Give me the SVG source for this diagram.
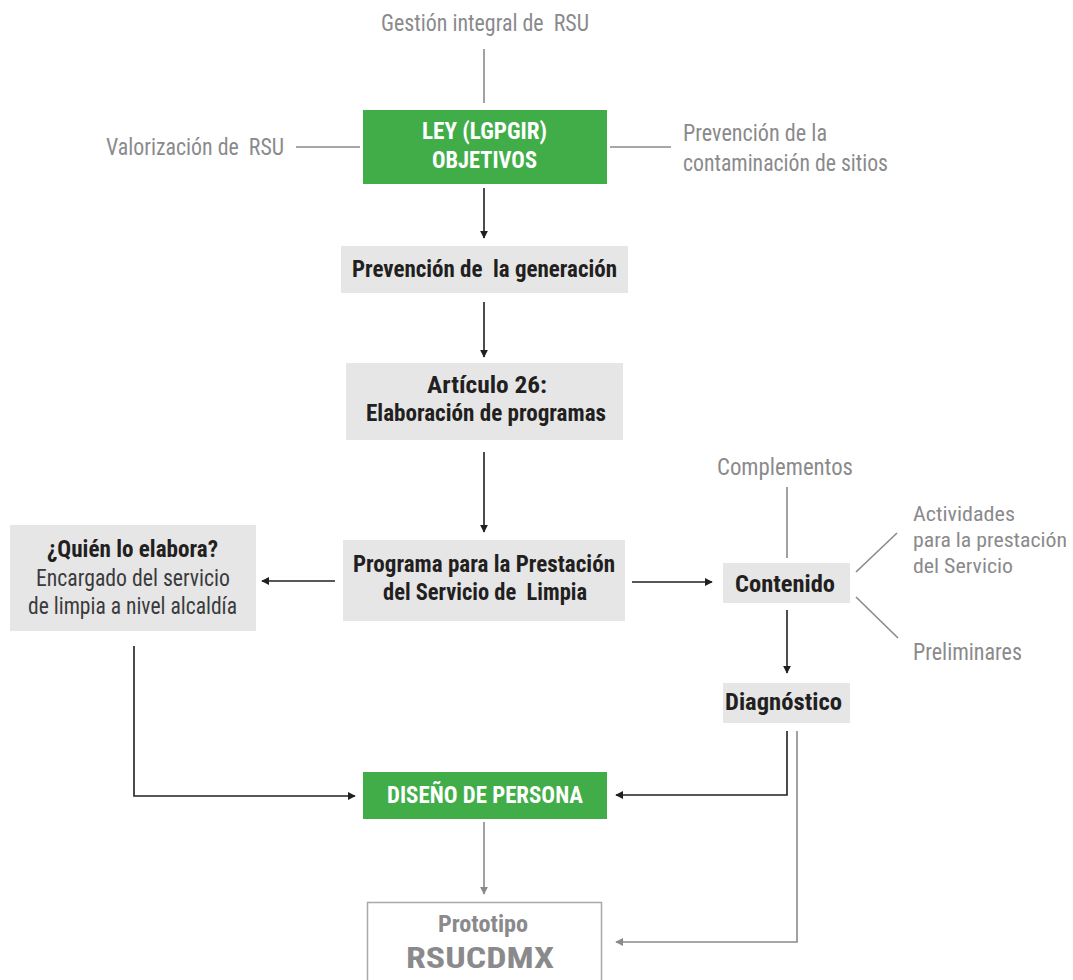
<svg xmlns="http://www.w3.org/2000/svg" width="1073" height="980" viewBox="0 0 1073 980">
<defs>
<marker id="ah" viewBox="0 0 10 10" refX="9" refY="5" markerWidth="8" markerHeight="8" markerUnits="userSpaceOnUse" orient="auto"><path d="M0,0 L10,5 L0,10 z" fill="#231f20"/></marker>
<marker id="ahg" viewBox="0 0 10 10" refX="9" refY="5" markerWidth="8" markerHeight="8" markerUnits="userSpaceOnUse" orient="auto"><path d="M0,0 L10,5 L0,10 z" fill="#8a8a8c"/></marker>
<style>
text{font-family:"Roboto Condensed","Liberation Sans Narrow","Liberation Sans",sans-serif;}
.g{fill:#8a8a8c;font-size:23px;}
.s{font-size:21px;}
.d{fill:#3a3a3c;font-size:23px;}
.b{fill:#231f20;font-size:23px;font-weight:bold;}
.w{fill:#ffffff;font-size:23px;font-weight:bold;}
.c{text-anchor:middle;}
.green{fill:#41ad49;}
.grey{fill:#e6e6e7;}
.lk{stroke:#231f20;stroke-width:1.6;fill:none;}
.lg{stroke:#8a8a8c;stroke-width:1.6;fill:none;}
</style>
</defs>
<rect width="1073" height="980" fill="#ffffff"/>
<g id="connectors">
<line class="lg" x1="484" y1="49" x2="484" y2="103"/>
<line class="lg" x1="296" y1="147" x2="360" y2="147"/>
<line class="lg" x1="610" y1="147" x2="671" y2="147"/>
<line class="lk" x1="484" y1="188" x2="484" y2="238" marker-end="url(#ah)"/>
<line class="lk" x1="484" y1="302" x2="484" y2="357" marker-end="url(#ah)"/>
<line class="lk" x1="484" y1="452" x2="484" y2="532" marker-end="url(#ah)"/>
<line class="lk" x1="335" y1="581" x2="262" y2="581" marker-end="url(#ah)"/>
<line class="lk" x1="632" y1="582" x2="712" y2="582" marker-end="url(#ah)"/>
<line class="lg" x1="787" y1="487" x2="787" y2="558"/>
<line class="lg" x1="856" y1="572" x2="897" y2="533"/>
<line class="lg" x1="856" y1="597" x2="898" y2="638"/>
<line class="lk" x1="787" y1="610" x2="787" y2="673" marker-end="url(#ah)"/>
<polyline class="lk" points="134,646 134,796 355,796" marker-end="url(#ah)"/>
<polyline class="lk" points="787,731 787,795 616,795" marker-end="url(#ah)"/>
<polyline class="lg" points="797,731 797,942 616,942" marker-end="url(#ahg)"/>
<line class="lg" x1="484" y1="822" x2="484" y2="894" marker-end="url(#ahg)"/>
</g>
<g id="n-gestion"><text class="g c" x="485" y="31" textLength="208" lengthAdjust="spacingAndGlyphs" xml:space="preserve">Gestión integral de  RSU</text></g>
<g id="n-valorizacion"><text class="g" x="106" y="155" textLength="178" lengthAdjust="spacingAndGlyphs" xml:space="preserve">Valorización de  RSU</text></g>
<g id="n-prevencion-cont"><text class="g" x="683" y="141" textLength="144" lengthAdjust="spacingAndGlyphs">Prevención de la</text><text class="g" x="683" y="171" textLength="205" lengthAdjust="spacingAndGlyphs">contaminación de sitios</text></g>
<g id="n-ley"><rect class="green" x="363" y="110" width="244" height="74"/><text class="w c" x="484.5" y="139" textLength="125" lengthAdjust="spacingAndGlyphs">LEY (LGPGIR)</text><text class="w c" x="484.5" y="168" textLength="105" lengthAdjust="spacingAndGlyphs">OBJETIVOS</text></g>
<g id="n-prev-gen"><rect class="grey" x="341" y="246" width="287" height="47"/><text class="b c" x="484.5" y="277" textLength="265" lengthAdjust="spacingAndGlyphs" xml:space="preserve">Prevención de  la generación</text></g>
<g id="n-articulo"><rect class="grey" x="346" y="363" width="277" height="77"/><text class="b c" x="487" y="393" textLength="120" lengthAdjust="spacingAndGlyphs">Artículo 26:</text><text class="b c" x="486" y="421" textLength="240" lengthAdjust="spacingAndGlyphs">Elaboración de programas</text></g>
<g id="n-programa"><rect class="grey" x="343" y="540" width="282" height="81"/><text class="b c" x="484" y="572" textLength="262" lengthAdjust="spacingAndGlyphs">Programa para la Prestación</text><text class="b c" x="485" y="600" textLength="204" lengthAdjust="spacingAndGlyphs" xml:space="preserve">del Servicio de  Limpia</text></g>
<g id="n-quien"><rect class="grey" x="10" y="525" width="246" height="106"/><text class="b c" x="132.5" y="557" textLength="171" lengthAdjust="spacingAndGlyphs">¿Quién lo elabora?</text><text class="d c" x="133" y="586" textLength="194" lengthAdjust="spacingAndGlyphs">Encargado del servicio</text><text class="d c" x="132.5" y="614" textLength="209" lengthAdjust="spacingAndGlyphs">de limpia a nivel alcaldía</text></g>
<g id="n-contenido"><rect class="grey" x="723" y="563" width="127" height="40"/><text class="b c" x="785" y="592" textLength="100" lengthAdjust="spacingAndGlyphs">Contenido</text></g>
<g id="n-complementos"><text class="g c" x="785" y="475" textLength="136" lengthAdjust="spacingAndGlyphs">Complementos</text></g>
<g id="n-actividades"><text class="g s" x="913" y="521" textLength="102" lengthAdjust="spacingAndGlyphs">Actividades</text><text class="g s" x="913" y="547" textLength="154" lengthAdjust="spacingAndGlyphs">para la prestación</text><text class="g s" x="913" y="573" textLength="100" lengthAdjust="spacingAndGlyphs">del Servicio</text></g>
<g id="n-preliminares"><text class="g" x="913" y="660" textLength="109" lengthAdjust="spacingAndGlyphs">Preliminares</text></g>
<g id="n-diagnostico"><rect class="grey" x="723" y="683" width="127" height="40"/><text class="b c" x="783.5" y="710" textLength="117" lengthAdjust="spacingAndGlyphs">Diagnóstico</text></g>
<g id="n-diseno"><rect class="green" x="363" y="772" width="244" height="47"/><text class="w c" x="485" y="803" textLength="196" lengthAdjust="spacingAndGlyphs">DISEÑO DE PERSONA</text></g>
<g id="n-prototipo"><rect x="367.5" y="902.5" width="234" height="90" fill="#ffffff" stroke="#a7a9ac" stroke-width="1.5"/><text class="c" x="483" y="932" textLength="90" lengthAdjust="spacingAndGlyphs" style="fill:#8a8a8c;font-size:23px;font-weight:bold">Prototipo</text><text class="c" x="480" y="968" textLength="148" lengthAdjust="spacingAndGlyphs" style="fill:#8a8a8c;font-size:30px;font-weight:bold">RSUCDMX</text></g>
</svg>
